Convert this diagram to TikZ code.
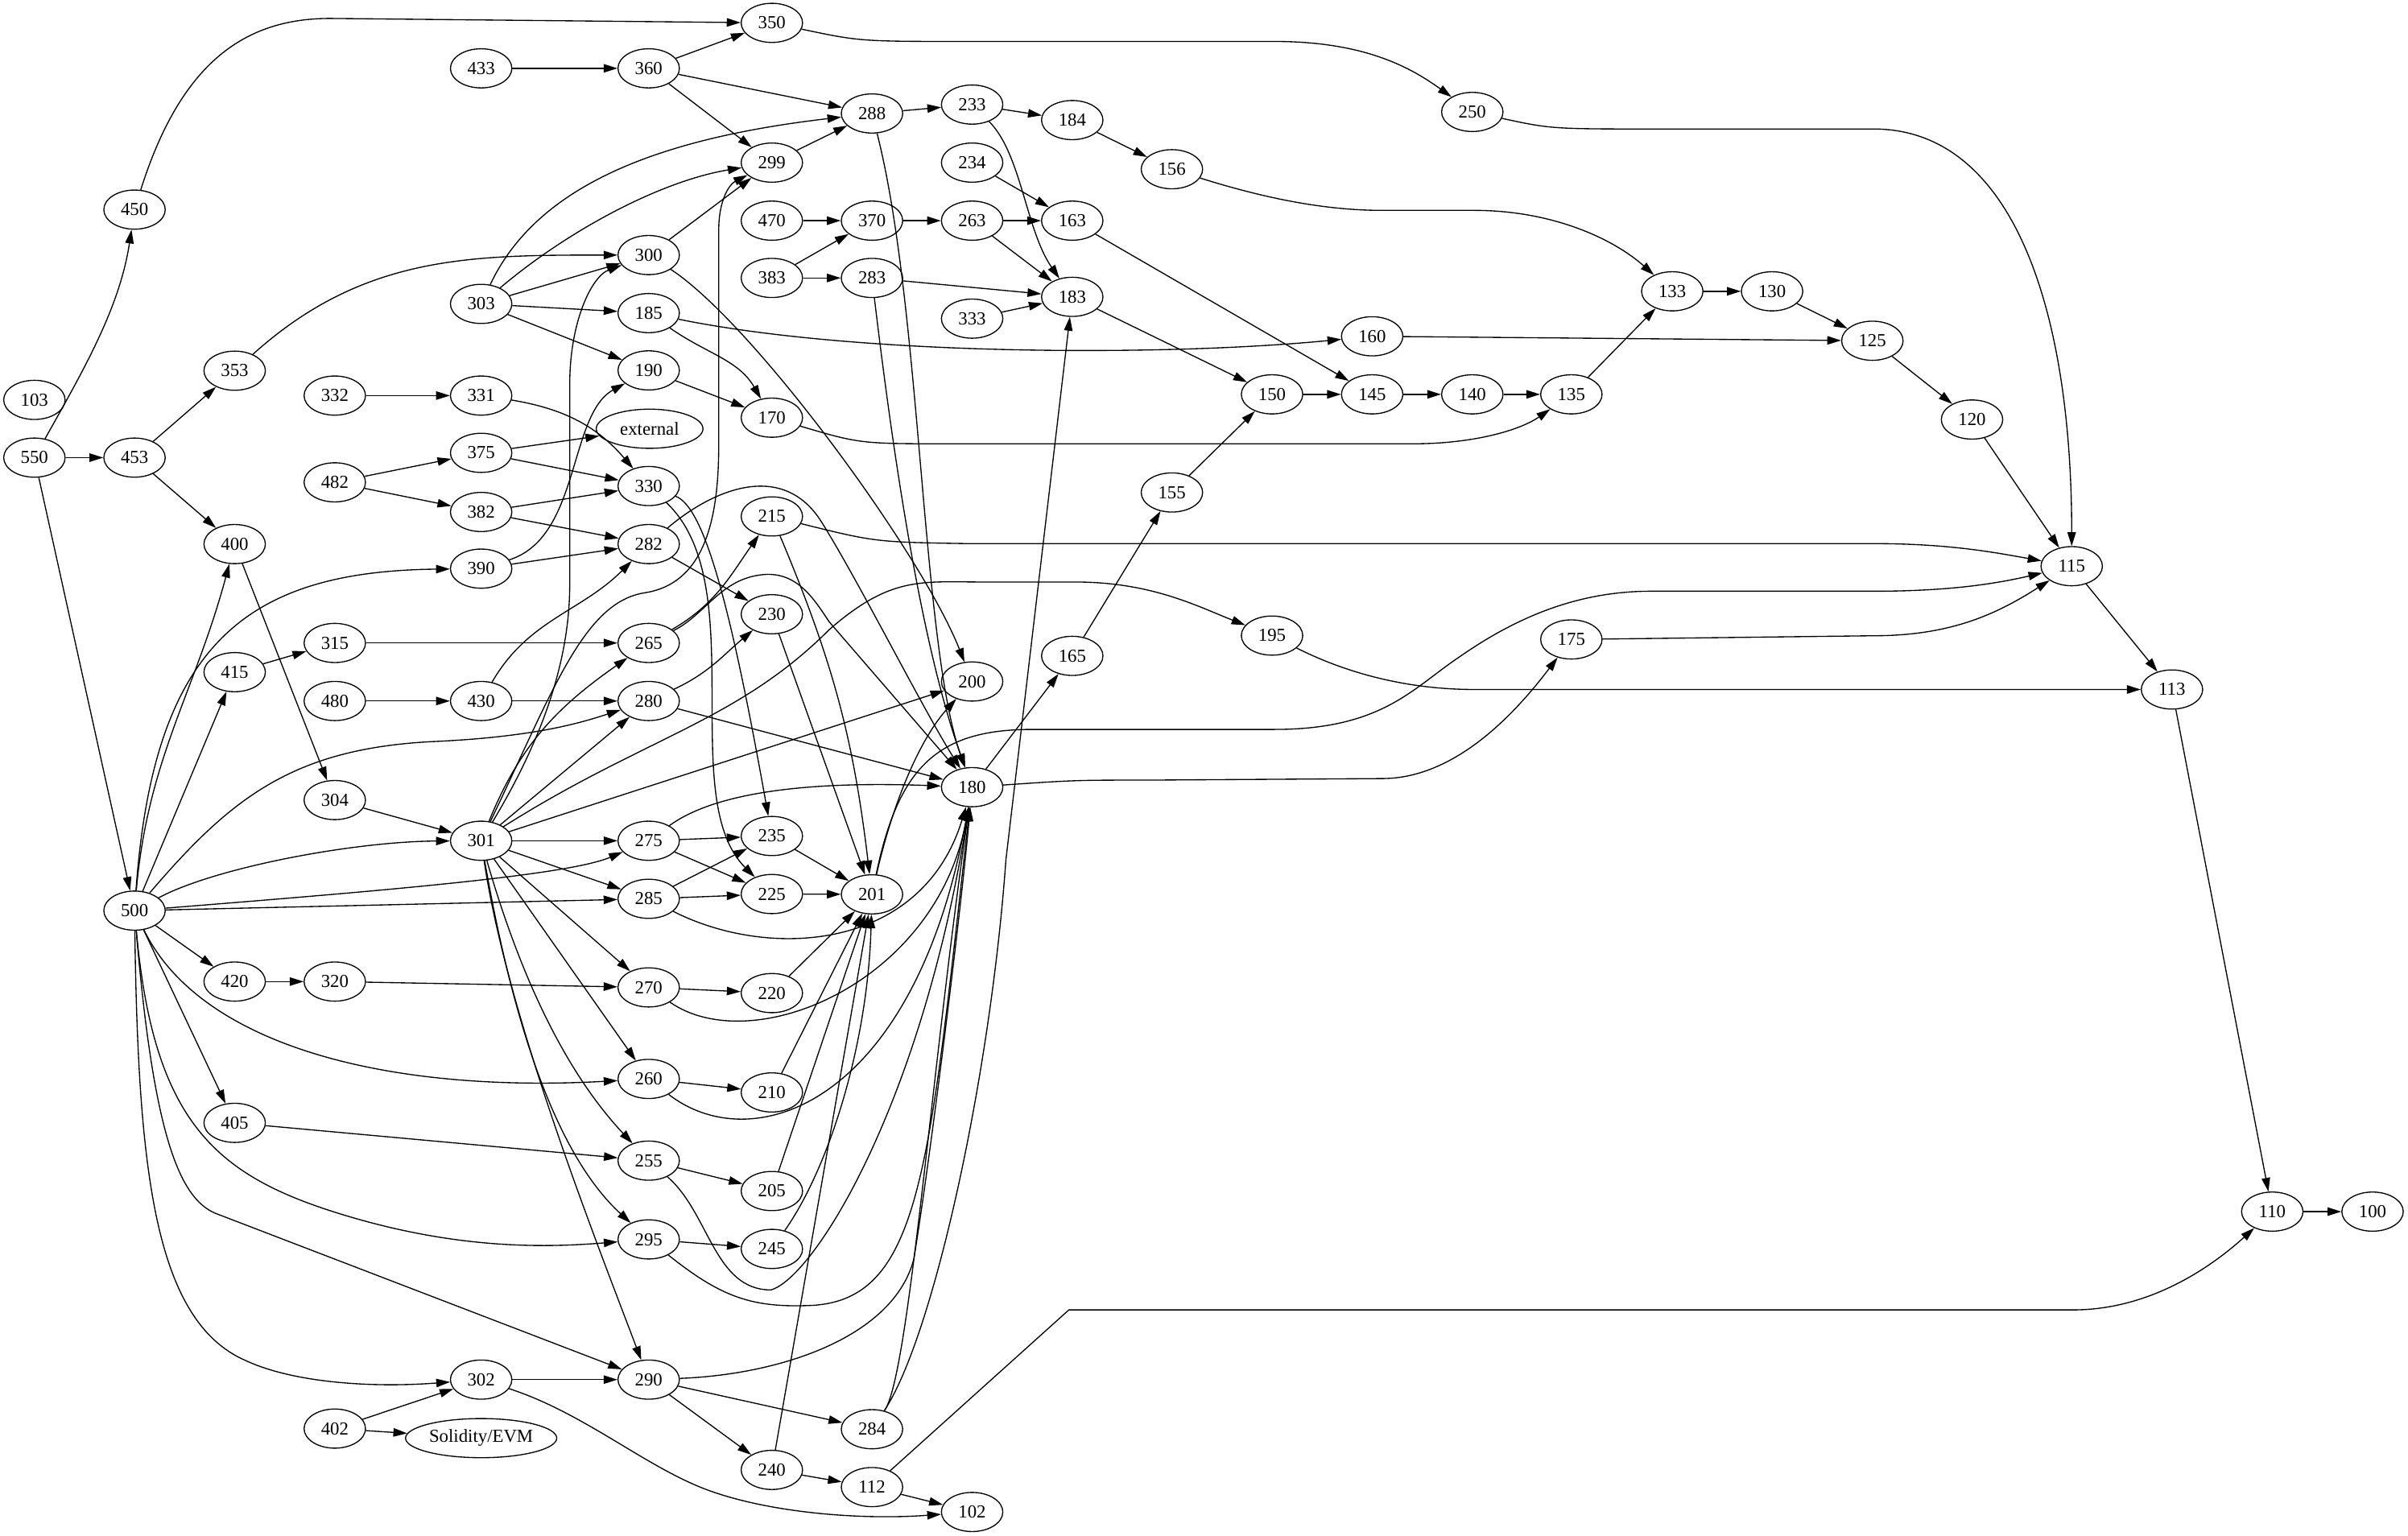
\documentclass[tikz,border=0pt]{standalone}
\usepackage{fontspec}
\setmainfont{Liberation Serif}
\usetikzlibrary{shapes.geometric,arrows.meta}

\begin{document}
\begin{tikzpicture}[x=0.02cm,y=-0.02cm,->,>={Triangle[length=1.8mm,width=1.1mm]},thin,
  st/.style={ellipse,draw,minimum width=8mm,minimum height=5.1mm,inner sep=0pt,font=\fontsize{6.8}{8}\selectfont}]
\useasboundingbox (0,0) rectangle (1568,1000);

\node[st] (v350) at (502.6,14.9) {350};
\node[st] (v433) at (313.3,44.5) {433};
\node[st] (v360) at (422.4,44.5) {360};
\node[st] (v233) at (633,68.1) {233};
\node[st] (v250) at (958.7,72.9) {250};
\node[st] (v288) at (567.8,73.9) {288};
\node[st] (v184) at (698.2,78.2) {184};
\node[st] (v299) at (502.6,105.9) {299};
\node[st] (v234) at (633,105.9) {234};
\node[st] (v156) at (763.1,110.2) {156};
\node[st] (v450) at (87.6,136.5) {450};
\node[st] (v470) at (502.6,143.7) {470};
\node[st] (v370) at (567.8,143.7) {370};
\node[st] (v263) at (633,143.7) {263};
\node[st] (v163) at (698.2,143.7) {163};
\node[st] (v300) at (422.4,166.1) {300};
\node[st] (v383) at (502.6,181) {383};
\node[st] (v283) at (567.8,181) {283};
\node[st] (v133) at (1088.9,189.7) {133};
\node[st] (v130) at (1153.9,189.7) {130};
\node[st] (v183) at (698.2,193.3) {183};
\node[st] (v303) at (313.3,197.9) {303};
\node[st] (v185) at (422.4,203.9) {185};
\node[st] (v333) at (633,207.5) {333};
\node[st] (v160) at (893.5,219) {160};
\node[st] (v125) at (1219.2,221.9) {125};
\node[st] (v353) at (152.8,241.4) {353};
\node[st] (v190) at (422.4,241.2) {190};
\node[st] (v150) at (828.3,256.8) {150};
\node[st] (v145) at (893.5,256.8) {145};
\node[st] (v140) at (958.7,256.8) {140};
\node[st] (v135) at (1023.2,256.8) {135};
\node[st] (v332) at (218,257.6) {332};
\node[st] (v331) at (313.3,257.6) {331};
\node[st] (v103) at (22.4,260.4) {103};
\node[st] (v170) at (502.6,272) {170};
\node[st] (v120) at (1284.1,273.2) {120};
\node[st,minimum width=13.9mm] (vext) at (423,279.2) {external};
\node[st] (v375) at (313.3,294.9) {375};
\node[st] (v550) at (22.4,298) {550};
\node[st] (v453) at (87.6,298) {453};
\node[st] (v482) at (218,314.1) {482};
\node[st] (v330) at (422.4,316.5) {330};
\node[st] (v155) at (763.1,320.7) {155};
\node[st] (v382) at (313.3,333.4) {382};
\node[st] (v215) at (502.6,336.3) {215};
\node[st] (v400) at (152.8,354.3) {400};
\node[st] (v282) at (422.4,354.3) {282};
\node[st] (v115) at (1349,368.7) {115};
\node[st] (v390) at (313.3,370.3) {390};
\node[st] (v230) at (502.6,400) {230};
\node[st] (v195) at (828.3,413.9) {195};
\node[st] (v175) at (1023.2,416.4) {175};
\node[st] (v315) at (218,418.7) {315};
\node[st] (v265) at (422.4,418.7) {265};
\node[st] (v165) at (698.2,427.1) {165};
\node[st] (v415) at (152.8,437.7) {415};
\node[st] (v200) at (633,443.8) {200};
\node[st] (v113) at (1414.3,449) {113};
\node[st] (v480) at (218,456.5) {480};
\node[st] (v430) at (313.3,456.5) {430};
\node[st] (v280) at (422.4,456.5) {280};
\node[st] (v180) at (633,512.6) {180};
\node[st] (v304) at (218,521) {304};
\node[st] (v235) at (502.6,544.4) {235};
\node[st] (v301) at (313.3,547.5) {301};
\node[st] (v275) at (422.4,547.5) {275};
\node[st] (v225) at (502.6,582.2) {225};
\node[st] (v201) at (567.8,582.4) {201};
\node[st] (v285) at (422.4,585.3) {285};
\node[st] (v500) at (87.6,593) {500};
\node[st] (v420) at (152.8,639.2) {420};
\node[st] (v320) at (218,639.2) {320};
\node[st] (v270) at (422.4,643) {270};
\node[st] (v220) at (502.6,646.7) {220};
\node[st] (v260) at (422.4,702.6) {260};
\node[st] (v210) at (502.6,711.4) {210};
\node[st] (v405) at (152.8,731.2) {405};
\node[st] (v255) at (422.4,755.8) {255};
\node[st] (v205) at (502.6,775.6) {205};
\node[st] (v110) at (1479.6,789) {110};
\node[st] (v100) at (1544.9,789) {100};
\node[st] (v295) at (422.4,807.1) {295};
\node[st] (v245) at (502.6,813.3) {245};
\node[st] (v302) at (313.3,898.4) {302};
\node[st] (v290) at (422.4,898.4) {290};
\node[st] (v402) at (218,930.3) {402};
\node[st] (v284) at (567.8,930.7) {284};
\node[st,minimum width=19.7mm] (vsol) at (313.3,936.5) {Solidity/EVM};
\node[st] (v240) at (502.6,957.2) {240};
\node[st] (v112) at (567.8,968.4) {112};
\node[st] (v102) at (633,984.6) {102};

\draw (v550) .. controls (55,240) and (78,200) .. (v450); \draw (v550) -- (v453);
\draw (v550) -- (v500);
\draw (v450) .. controls (118,40) and (160,12) .. (215,12) -- (v350);
\draw (v453) -- (v353); \draw (v453) -- (v400);
\draw (v353) to[out=42,in=180] (v300);
\draw (v433) -- (v360);
\draw (v360) -- (v350); \draw (v360) -- (v288); \draw (v360) -- (v299);
\draw (v350) .. controls (560,27) .. (630,27) -- (830,27) .. controls (890,27) and (920,45) .. (v250);
\draw (v250) .. controls (1010,84) .. (1080,84) -- (1220,84) .. controls (1310,84) and (1349,200) .. (v115);
\draw (v288) -- (v233);
\draw (v288) .. controls (600,200) and (600,420) .. (v180);
\draw (v233) -- (v184);
\draw (v233) .. controls (665,100) and (668,150) .. (v183);
\draw (v184) -- (v156);
\draw (v156) .. controls (820,128) and (860,137) .. (900,137) -- (960,137) .. controls (1010,137) and (1050,155) .. (v133);
\draw (v234) -- (v163); \draw (v299) -- (v288);
\draw (v303) .. controls (350,120) and (430,90) .. (v288);
\draw (v303) .. controls (370,150) and (430,118) .. (v299);
\draw (v303) -- (v300); \draw (v303) -- (v185); \draw (v303) -- (v190);
\draw (v300) -- (v299);
\draw (v300) .. controls (490,210) and (600,360) .. (v200);
\draw (v470) -- (v370); \draw (v370) -- (v263);
\draw (v263) -- (v163); \draw (v263) -- (v183);
\draw (v383) -- (v370); \draw (v383) -- (v283);
\draw (v283) -- (v183); \draw (v333) -- (v183);
\draw (v283) .. controls (582,300) and (600,420) .. (v180);
\draw (v183) -- (v150); \draw (v163) -- (v145);
\draw (v185) .. controls (560,232) and (760,232) .. (v160);
\draw (v185) to[out=-35,in=120] (v170);
\draw (v160) -- (v125);
\draw (v133) -- (v130); \draw (v130) -- (v125);
\draw (v125) -- (v120); \draw (v120) -- (v115);
\draw (v190) -- (v170);
\draw (v170) .. controls (560,289) .. (620,289) -- (920,289) .. controls (960,289) and (990,280) .. (v135);
\draw (v150) -- (v145); \draw (v145) -- (v140);
\draw (v140) -- (v135); \draw (v135) -- (v133);
\draw (v332) -- (v331);
\draw (v331) to[bend left=20] (v330);
\draw (v375) -- (vext); \draw (v375) -- (v330);
\draw (v482) -- (v375); \draw (v482) -- (v382);
\draw (v382) -- (v330); \draw (v382) -- (v282);
\draw (v330) .. controls (458,330) and (475,390) .. (v235);
\draw (v330) .. controls (490,380) and (440,520) .. (v225);
\draw (v282) .. controls (465,318) and (510,300) .. (535,340) .. controls (560,380) and (600,460) .. (v180);
\draw (v282) -- (v230);
\draw (v155) -- (v150); \draw (v165) -- (v155); \draw (v180) -- (v165);
\draw (v215) .. controls (570,353) .. (630,354) -- (1220,354) .. controls (1270,354) and (1300,360) .. (v115);
\draw (v215) to[bend left=8] (v201);
\draw (v390) .. controls (378,350) and (370,270) .. (v190);
\draw (v390) -- (v282);
\draw (v301) .. controls (360,470) and (371,420) .. (371,380) -- (371,250) .. controls (371,210) and (385,180) .. (v300);
\draw (v301) .. controls (360,450) and (380,392) .. (420,386) .. controls (458,380) and (468,340) .. (468,290) -- (468,150) .. controls (468,130) and (475,120) .. (v299);
\draw (v301) to[out=68,in=215] (v265);
\draw (v301) -- (v280);
\draw (v301) .. controls (420,480) and (480,470) .. (540,410) .. controls (580,375) and (600,379) .. (640,379) -- (700,379) .. controls (750,379) and (780,395) .. (v195);
\draw (v301) -- (v200);
\draw (v301) -- (v275); \draw (v301) -- (v285);
\draw (v301) -- (v270); \draw (v301) -- (v260);
\draw (v301) .. controls (340,640) and (370,700) .. (v255);
\draw (v301) .. controls (333,660) and (360,750) .. (v295);
\draw (v301) .. controls (330,660) and (385,800) .. (v290);
\draw (v304) -- (v301); \draw (v400) -- (v304);
\draw (v500) to[out=85,in=-105] (v400);
\draw (v500) .. controls (100,420) and (160,372) .. (v390);
\draw (v500) -- (v415); \draw (v415) -- (v315); \draw (v315) -- (v265);
\draw (v500) .. controls (150,520) and (190,488) .. (280,483) .. controls (350,480) and (380,470) .. (v280);
\draw (v500) .. controls (140,565) and (230,548) .. (v301);
\draw (v500) .. controls (250,580) and (370,570) .. (v275);
\draw (v500) -- (v285); \draw (v500) -- (v420);
\draw (v500) .. controls (130,680) and (250,712) .. (v260);
\draw (v500) -- (v405);
\draw (v500) .. controls (100,730) and (140,765) .. (220,790) .. controls (300,815) and (360,812) .. (v295);
\draw (v500) .. controls (100,740) and (117,780) .. (140,790) -- (v290);
\draw (v500) .. controls (90,760) and (100,860) .. (160,886) .. controls (190,900) and (240,904) .. (v302);
\draw (v405) -- (v255); \draw (v420) -- (v320); \draw (v320) -- (v270);
\draw (v270) -- (v220);
\draw (v270) .. controls (490,690) and (610,640) .. (v180);
\draw (v260) -- (v210);
\draw (v260) .. controls (490,755) and (595,720) .. (v180);
\draw (v255) -- (v205);
\draw (v255) .. controls (462,790) and (465,840) .. (502,840) .. controls (530,832) and (600,720) .. (v180);
\draw (v295) -- (v245);
\draw (v295) .. controls (470,845) and (490,852) .. (530,850) .. controls (600,845) and (605,760) .. (v180);
\draw (v290) -- (v284); \draw (v290) -- (v240);
\draw (v290) .. controls (510,895) and (582,870) .. (595,820) .. controls (605,760) and (625,600) .. (v180);
\draw (v284) .. controls (592,895) and (606,700) .. (v180);
\draw (v284) .. controls (608,870) and (645,700) .. (655,560) -- (v183);
\draw (v240) -- (v112); \draw (v240) -- (v201);
\draw (v112) -- (v102);
\draw (v112) -- (696,853) -- (1350,853) .. controls (1400,853) and (1440,825) .. (v110);
\draw (v302) -- (v290);
\draw (v302) .. controls (380,920) and (420,955) .. (460,970) .. controls (500,985) and (560,990) .. (v102);
\draw (v402) -- (v302); \draw (v402) -- (vsol);
\draw (v210) -- (v201); \draw (v220) -- (v201); \draw (v205) -- (v201);
\draw (v245) .. controls (540,760) and (565,680) .. (v201);
\draw (v225) -- (v201); \draw (v235) -- (v201); \draw (v230) -- (v201);
\draw (v201) .. controls (582,520) and (600,480) .. (v200);
\draw (v201) .. controls (585,500) and (610,475) .. (672,475) -- (830,475) .. controls (900,475) and (920,448) .. (950,428) .. controls (990,400) and (1030,385) .. (1075,385) -- (1220,385) .. controls (1270,385) and (1300,380) .. (v115);
\draw (v180) .. controls (700,508) .. (750,508) -- (900,507) .. controls (950,507) and (990,460) .. (v175);
\draw (v195) .. controls (880,440) and (920,449) .. (960,449) -- (v113);
\draw (v175) -- (1220,414) .. controls (1270,414) and (1300,400) .. (v115);
\draw (v115) -- (v113); \draw (v113) -- (v110); \draw (v110) -- (v100);
\draw (v275) -- (v235); \draw (v275) -- (v225);
\draw (v275) .. controls (460,520) and (510,508) .. (v180);
\draw (v285) -- (v235); \draw (v285) -- (v225);
\draw (v285) .. controls (500,625) and (600,620) .. (v180);
\draw (v280) to[out=25,in=220] (v230);
\draw (v280) -- (v180);
\draw (v265) to[out=30,in=235] (v215);
\draw (v265) .. controls (460,400) and (470,375) .. (500,374) .. controls (520,374) and (530,390) .. (540,405) -- (v180);
\draw (v430) to[out=60,in=225] (v282);
\draw (v430) -- (v280); \draw (v480) -- (v430);
\end{tikzpicture}
\end{document}
